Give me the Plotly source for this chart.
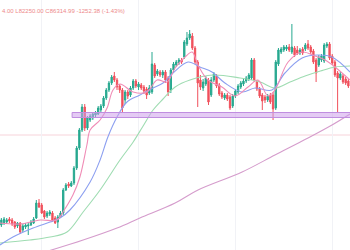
import plotly.graph_objects as go

# Candles (price in thousands), index = bar number
opens = [58.5, 58.9, 59.1, 59.7, 59.5, 59.1, 58.3, 58.9, 57.5, 58.1,
         58.3, 58.5, 58.9, 59.9, 62.9, 62.5, 61.3, 60.3, 60.7, 60.9,
         59.9, 59.1, 60.1, 60.9, 65.5, 66.7, 66.3, 66.9, 69.9, 73.9,
         77.5, 82.1, 77.9, 79.5, 79.9, 80.5, 80.7, 81.5, 82.3, 83.9,
         85.5, 86.9, 88.3, 87.5, 86.3, 85.5, 83.5, 85.1, 84.5, 85.9,
         87.3, 86.1, 86.5, 86.1, 85.7, 84.9, 85.1, 90.5, 88.7, 89.1,
         88.5, 89.1, 87.9, 85.5, 89.5, 90.5, 90.9, 91.5, 92.1, 94.7,
         95.9, 96.3, 93.9, 91.1, 87.5, 85.9, 86.7, 87.5, 84.5, 87.5,
         88.3, 86.5, 84.9, 83.9, 84.5, 84.1, 82.3, 84.3, 85.1, 86.1,
         86.7, 87.3, 87.7, 87.9, 91.5, 87.1, 85.7, 84.5, 84.1, 83.5,
         84.5, 84.5, 81.9, 90.7, 93.1, 93.5, 93.7, 94.1, 93.1, 93.9,
         93.5, 92.9, 93.7, 93.7, 94.7, 94.1, 93.3, 91.5, 90.5, 91.5,
         91.3, 94.3, 94.7, 92.3, 91.1, 88.9, 87.9, 88.3, 87.7, 87.3]
closes = [59.5, 59.7, 59.5, 59.3, 58.7, 58.1, 58.9, 57.1, 58.3, 58.5,
          58.5, 59.1, 59.7, 62.9, 62.1, 60.9, 60.1, 60.9, 61.1, 59.5,
          58.9, 60.1, 60.9, 65.5, 66.5, 66.3, 66.9, 69.9, 73.9, 77.5,
          82.1, 77.9, 79.9, 80.3, 80.7, 80.9, 81.9, 82.3, 83.9, 85.5,
          86.9, 88.1, 87.5, 86.1, 85.5, 81.9, 85.1, 84.3, 85.9, 87.3,
          86.3, 86.7, 85.9, 85.3, 84.5, 85.9, 90.7, 88.3, 89.3, 88.5,
          89.1, 87.5, 85.1, 89.5, 90.7, 91.1, 91.5, 91.1, 95.1, 95.9,
          96.7, 93.9, 91.1, 86.9, 86.1, 87.1, 87.9, 83.1, 87.5, 88.7,
          86.3, 84.7, 84.1, 84.5, 83.7, 81.9, 84.3, 85.3, 86.3, 86.9,
          87.3, 87.9, 88.5, 91.5, 87.5, 85.7, 84.3, 83.3, 83.5, 84.3,
          83.1, 81.7, 91.1, 93.5, 93.7, 94.1, 94.1, 93.5, 94.1, 92.5,
          92.9, 93.5, 92.9, 94.5, 93.9, 93.1, 91.1, 88.9, 92.1, 92.3,
          94.5, 94.7, 91.9, 90.9, 88.5, 87.9, 88.7, 87.1, 86.9, 86.3]
highs = [59.9, 60.1, 59.9, 60.1, 59.9, 59.3, 59.1, 59.1, 58.7, 58.9,
         58.9, 59.5, 60.1, 63.5, 63.7, 62.9, 61.5, 61.3, 61.5, 61.3,
         60.3, 60.5, 61.3, 65.9, 66.9, 67.1, 67.3, 70.3, 74.3, 77.9,
         82.7, 82.7, 80.3, 80.7, 81.1, 81.3, 82.3, 82.7, 84.3, 85.9,
         87.3, 88.5, 89.1, 87.9, 86.7, 85.9, 85.5, 85.5, 86.3, 87.7,
         87.7, 87.1, 86.9, 86.5, 86.1, 86.5, 93.1, 90.9, 89.7, 89.5,
         89.5, 89.5, 88.3, 89.9, 91.1, 91.5, 91.9, 91.9, 95.5, 97.1,
         97.5, 96.9, 94.3, 91.5, 88.5, 87.7, 88.3, 87.9, 88.1, 89.1,
         88.7, 86.9, 85.3, 84.9, 84.9, 84.5, 84.7, 85.7, 86.7, 87.3,
         87.7, 88.3, 88.9, 91.9, 91.9, 87.5, 86.1, 84.9, 84.5, 84.7,
         84.9, 85.1, 91.5, 93.9, 94.1, 94.5, 94.5, 94.7, 98.7, 94.3,
         94.3, 93.9, 94.1, 94.9, 95.5, 94.5, 93.7, 91.9, 92.5, 92.7,
         94.9, 95.1, 95.1, 92.7, 91.5, 89.3, 89.1, 88.7, 88.1, 87.7]
lows = [58.1, 58.5, 58.7, 58.9, 58.3, 57.7, 57.9, 56.7, 57.1, 57.7,
        56.5, 58.3, 58.7, 59.7, 61.9, 60.7, 59.7, 59.9, 60.3, 59.1,
        58.7, 57.9, 59.9, 60.5, 65.3, 65.9, 66.1, 66.5, 69.5, 73.5,
        77.1, 77.3, 77.5, 79.1, 79.5, 80.1, 80.5, 81.1, 81.9, 83.5,
        85.1, 86.5, 87.1, 85.5, 84.9, 81.1, 82.7, 83.7, 84.1, 85.5,
        85.9, 85.5, 85.5, 84.7, 83.7, 84.5, 84.7, 87.9, 88.3, 88.1,
        87.9, 86.9, 84.3, 84.9, 89.1, 90.1, 90.5, 90.7, 91.7, 94.3,
        95.5, 93.5, 90.7, 82.1, 85.5, 85.3, 86.3, 82.5, 84.1, 87.1,
        85.9, 84.3, 83.7, 83.5, 83.3, 81.5, 81.9, 83.9, 84.7, 85.7,
        86.3, 86.9, 87.3, 87.5, 87.1, 85.3, 83.9, 81.5, 82.9, 83.1,
        82.7, 79.5, 81.5, 90.3, 92.7, 93.1, 93.3, 93.1, 92.7, 92.1,
        92.5, 92.5, 92.5, 93.3, 93.5, 92.7, 90.7, 87.1, 90.1, 91.1,
        90.9, 93.9, 91.5, 90.5, 88.1, 80.9, 87.5, 86.7, 86.5, 85.9]
bars = list(range(len(opens)))

# Moving averages (bar index, value)
ma_fast_x = [-0.5, 6.9, 14.4, 20.7, 22.9, 26.6, 29.2, 31.8, 33.0, 36.7, 39.3, 41.5, 44.1,
             49.0, 54.1, 57.9, 61.6, 64.6, 68.3, 70.9, 73.1, 76.8, 82.0, 86.9, 91.7,
             95.4, 99.1, 101.7, 106.6, 111.8, 116.6, 120.3, 124.0, 129.6]
ma_fast_y = [58.9, 58.7, 59.5, 59.5, 61.1, 64.5, 68.1, 74.5, 77.5, 79.5, 81.9, 85.5, 86.7,
             85.1, 85.1, 87.5, 87.1, 89.9, 92.1, 93.1, 90.5, 87.5, 86.1, 84.3, 86.1,
             87.5, 84.3, 85.5, 91.1, 93.1, 92.3, 91.5, 90.1, 87.5]
ma_mid_x = [-0.5, 4.3, 11.8, 18.1, 21.8, 25.5, 33.0, 36.7, 39.6, 43.0, 46.7, 51.5, 56.4,
            60.1, 63.8, 69.4, 73.8, 78.3, 83.1, 89.5, 94.3, 100.6, 105.4, 111.8, 117.7,
            122.9, 129.6]
ma_mid_y = [54.5, 56.1, 57.9, 59.1, 59.9, 61.5, 67.1, 71.5, 76.1, 80.1, 83.1, 84.5, 85.9,
            86.9, 88.9, 91.1, 90.1, 89.1, 86.9, 85.1, 85.9, 85.5, 88.9, 91.9, 92.5,
            92.1, 89.1]
ma_slow_x = [-0.5, 10.6, 18.1, 24.4, 30.4, 36.7, 44.1, 49.0, 52.7, 56.4, 60.1, 64.6, 70.1,
             78.7, 88.7, 96.2, 101.7, 107.3, 112.9, 118.6, 124.0, 129.6]
ma_slow_y = [54.9, 55.5, 56.1, 57.1, 61.1, 65.5, 71.5, 75.1, 78.3, 81.5, 83.7, 86.1, 87.5,
             88.5, 87.9, 87.1, 85.9, 87.1, 88.3, 89.3, 90.1, 90.3]
ma_long_x = [16.2, 30.4, 43.0, 51.5, 64.6, 73.1, 89.5, 101.7, 114.0, 122.9, 129.6]
ma_long_y = [53.1, 55.5, 57.9, 59.9, 62.9, 65.5, 69.1, 72.5, 75.9, 78.5, 80.7]

support_low, support_high, support_start = 80.0, 81.0, 26.3
price_line = 76.5
header = "4.00 L82250.00 C86314.99 -1252.38 (-1.43%)"

fig = go.Figure()
fig.add_trace(go.Candlestick(
    x=bars, open=opens, high=highs, low=lows, close=closes,
    increasing=dict(line=dict(color="#26a88f", width=1), fillcolor="#26a88f"),
    decreasing=dict(line=dict(color="#f0505c", width=1), fillcolor="#f0505c"),
    whiskerwidth=0, hoverinfo="skip"))
for xs, ys, col in [(ma_long_x, ma_long_y, "#d59ccc"),
                    (ma_slow_x, ma_slow_y, "#9fdcb2"),
                    (ma_mid_x, ma_mid_y, "#8c9ff0"),
                    (ma_fast_x, ma_fast_y, "#f08cb6")]:
    fig.add_trace(go.Scatter(x=xs, y=ys, mode="lines", line=dict(color=col, width=1.1, shape="spline"),
                             hoverinfo="skip"))

fig.add_shape(type="line", xref="paper", x0=0, x1=1, y0=price_line, y1=price_line,
              line=dict(color="#f7d3da", width=1), layer="below")
fig.add_shape(type="rect", x0=support_start, x1=len(opens) + 2, y0=support_low, y1=support_high,
              fillcolor="rgba(205,160,235,0.55)", line=dict(color="#c08ee0", width=1), layer="above")

fig.add_annotation(text=header, xref="paper", yref="paper", x=0.0, y=1 - 10.5 / 250,
                   xanchor="left", yanchor="middle", showarrow=False,
                   font=dict(family="Liberation Sans", size=6, color="#ee8a8a"))

fig.update_layout(
    width=350, height=250, margin=dict(l=0, r=0, t=0, b=0),
    paper_bgcolor="white", plot_bgcolor="white", showlegend=False,
    xaxis=dict(range=[-0.5, 129.6], rangeslider=dict(visible=False), showticklabels=False,
               showgrid=True, gridcolor="#f1f2f6", tick0=15.1, dtick=36, zeroline=False,
               ticks="", showline=False),
    yaxis=dict(range=[53.5, 103.5], showticklabels=False, showgrid=False, zeroline=False,
               ticks="", showline=False),
)
fig.write_html("out.html")
